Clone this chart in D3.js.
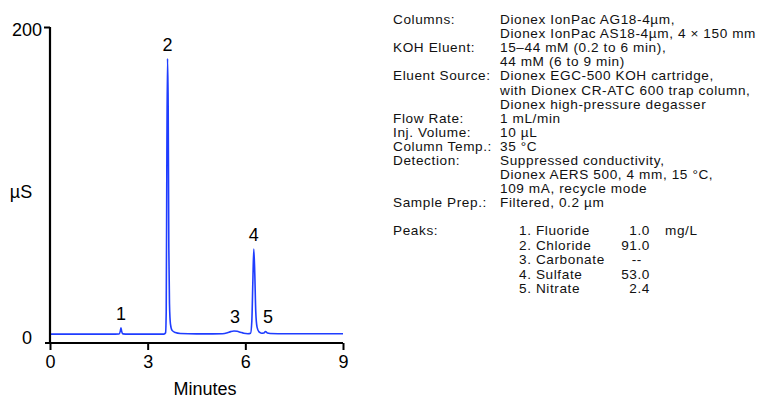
<!DOCTYPE html>
<html><head><meta charset="utf-8">
<script src="https://cdn.jsdelivr.net/npm/d3@7"></script>
<style>
html,body{margin:0;padding:0;background:#fff;}
svg{display:block;font-family:"Liberation Sans",Arial,Helvetica,sans-serif;}
</style></head>
<body><svg id="c" width="763" height="402"></svg>
<script>
// chromatogram trace (time in minutes, signal in µS)
const times = [0, 1.0, 2.0, 2.12, 2.16, 2.18, 2.20, 2.24, 2.4, 3.0, 3.5, 3.55, 3.57, 3.59, 3.61, 3.63, 3.65, 3.67, 3.70, 3.75, 3.85, 4.0, 4.5, 5.0, 5.3, 5.45, 5.55, 5.65, 5.75, 5.85, 5.95, 6.08, 6.16, 6.20, 6.23, 6.26, 6.29, 6.32, 6.36, 6.42, 6.50, 6.57, 6.62, 6.68, 6.76, 7.0, 8.0, 9.0];
const signal = [5.6, 5.6, 5.6, 5.7, 7.5, 9.6, 7.4, 5.8, 5.6, 5.6, 5.6, 6.5, 20, 120, 180, 150, 60, 25, 12, 8, 6.6, 6.0, 5.8, 5.8, 5.9, 6.5, 7.2, 7.6, 7.4, 6.8, 6.2, 5.9, 6.2, 14, 38, 59.5, 44, 20, 10, 7, 6.2, 6.3, 7.3, 6.3, 6.0, 5.9, 5.9, 5.9];
// peak labels: number, apex time, apex value
const peakNames = ["1", "2", "3", "4", "5"];
const peakTimes = [2.18, 3.61, 5.68, 6.26, 6.70];
const peakValues = [9.6, 180, 7.6, 59.5, 7.3];
const xTicks = [0, 3, 6, 9];
const yTicks = [0, 200];
// method conditions text
const condLabels = ["Columns:", "", "KOH Eluent:", "", "Eluent Source:", "", "", "Flow Rate:", "Inj. Volume:", "Column Temp.:", "Detection:", "", "", "Sample Prep.:"];
const condValues = ["Dionex IonPac AG18-4µm,", "Dionex IonPac AS18-4µm, 4 × 150 mm", "15–44 mM (0.2 to 6 min),", "44 mM (6 to 9 min)", "Dionex EGC-500 KOH cartridge,", "with Dionex CR-ATC 600 trap column,", "Dionex high-pressure degasser", "1 mL/min", "10 µL", "35 °C", "Suppressed conductivity,", "Dionex AERS 500, 4 mm, 15 °C,", "109 mA, recycle mode", "Filtered, 0.2 µm"];
const peakTableNames = ["1. Fluoride", "2. Chloride", "3. Carbonate", "4. Sulfate", "5. Nitrate"];
const peakTableConc = ["1.0", "91.0", "--", "53.0", "2.4"];
const concUnit = "mg/L";

const svg = d3.select("#c");
const x = d3.scaleLinear().domain([0, 9]).range([50, 343]);
const y = d3.scaleLinear().domain([0, 200]).range([343, 27]);

// trace
const line = d3.line().x((d, i) => x(times[i])).y(d => y(d)).curve(d3.curveMonotoneX);
svg.append("path").datum(signal).attr("d", line)
  .attr("fill", "none").attr("stroke", "#1f3dff").attr("stroke-width", 1.6).attr("stroke-linejoin", "round");

// x axis
const xa = svg.append("g").attr("transform", `translate(0,${y(0)})`)
  .call(d3.axisBottom(x).tickValues(xTicks).tickSize(7).tickPadding(5).tickFormat(d3.format("d")));
xa.select(".domain").attr("d", `M45,0H${x(9)}`).attr("stroke", "#000").attr("stroke-width", 2.2);
xa.selectAll(".tick line").attr("stroke", "#000").attr("stroke-width", 2);
xa.selectAll(".tick text").attr("font-size", 18).attr("fill", "#000").attr("font-family", "Liberation Sans, Arial, sans-serif");

// y axis
const ya = svg.append("g").attr("transform", `translate(${x(0)},0)`)
  .call(d3.axisLeft(y).tickValues(yTicks).tickSize(6).tickPadding(3).tickFormat(d3.format("d")));
ya.select(".domain").attr("d", `M0,${y(200)}V${y(0)}`).attr("stroke", "#000").attr("stroke-width", 2.2);
ya.selectAll(".tick line").attr("stroke", "#000").attr("stroke-width", 2).attr("display", d => d === 0 ? "none" : null);
ya.selectAll(".tick text").attr("font-size", 18).attr("fill", "#000").attr("font-family", "Liberation Sans, Arial, sans-serif")
  .attr("dy", d => d === 0 ? "0.0em" : "0.45em").attr("x", d => d === 0 ? -18 : -8);

// axis titles
svg.append("text").attr("x", 21).attr("y", 192).attr("dy", "0.35em").attr("text-anchor", "middle")
  .attr("font-size", 18).text("µS");
svg.append("text").attr("x", 205).attr("y", 389).attr("dy", "0.35em").attr("text-anchor", "middle")
  .attr("font-size", 18).text("Minutes");

// peak labels
svg.selectAll("text.pk").data(peakNames).join("text").attr("class", "pk")
  .attr("x", (d, i) => x(peakTimes[i])).attr("y", (d, i) => y(peakValues[i]) - 8)
  .attr("text-anchor", "middle").attr("font-size", 18).text(d => d);

// conditions
const lh = 14.1, top0 = 24;
const cond = svg.append("g").attr("font-size", 13.6).attr("letter-spacing", 0.6).attr("fill", "#111");
cond.selectAll("text.l").data(condLabels).join("text").attr("class", "l")
  .attr("x", 393).attr("y", (d, i) => top0 + i * lh).text(d => d);
cond.selectAll("text.v").data(condValues).join("text").attr("class", "v")
  .attr("x", 500).attr("y", (d, i) => top0 + i * lh).text(d => d);
const ptop = 235, plh = 14.5;
cond.append("text").attr("x", 393).attr("y", ptop).text("Peaks:");
cond.selectAll("text.pn").data(peakTableNames).join("text").attr("class", "pn")
  .attr("x", 519).attr("y", (d, i) => ptop + i * plh).text(d => d);
cond.selectAll("text.pc").data(peakTableConc).join("text").attr("class", "pc")
  .attr("x", (d) => d === "--" ? 642 : 650).attr("text-anchor", "end").attr("y", (d, i) => ptop + i * plh).text(d => d);
cond.append("text").attr("x", 665).attr("y", ptop).text(concUnit);
</script></body></html>
